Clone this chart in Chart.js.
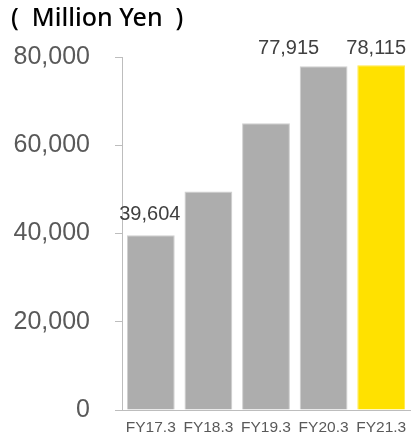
<!DOCTYPE html>
<html lang="en">
<head>
  <meta charset="UTF-8">
  <title>Sales</title>
  <script src="https://cdn.jsdelivr.net/npm/chart.js"></script>
  <style>
    html, body { margin: 0; padding: 0; background: #fff; }
    #wrap { width: 416px; height: 436px; }
  </style>
</head>
<body>
  <div id="wrap"><canvas id="salesChart" width="416" height="436"></canvas></div>

  <script>
    // Fiscal years and sales (million yen)
    const years = ['FY17.3', 'FY18.3', 'FY19.3', 'FY20.3', 'FY21.3'];
    const sales = [39604, 49500, 65000, 77915, 78115];
    const yTicks = [0, 20000, 40000, 60000, 80000];

    // Which bars carry a value label, with a small nudge [dx, dy] from the bar top
    const labelShift = [[-1, -15], null, null, [-35, -12], [-5, -11]];

    const barFill = ['#adadad', '#adadad', '#adadad', '#adadad', '#ffe100'];
    const barEdge = ['#cfcfcf', '#cfcfcf', '#cfcfcf', '#cfcfcf', '#ffe94a'];

    const valueLabels = {
      id: 'valueLabels',
      afterDatasetsDraw(chart) {
        const ctx = chart.ctx;
        const bars = chart.getDatasetMeta(0).data;
        ctx.save();
        ctx.font = '20px "Liberation Sans", Arial, sans-serif';
        ctx.fillStyle = '#404040';
        ctx.textAlign = 'center';
        ctx.textBaseline = 'alphabetic';
        bars.forEach((bar, i) => {
          const s = labelShift[i];
          if (!s) return;
          ctx.fillText(sales[i].toLocaleString('en-US'), bar.x + s[0], bar.y + s[1]);
        });
        ctx.restore();
      }
    };

    new Chart(document.getElementById('salesChart').getContext('2d'), {
      type: 'bar',
      data: {
        labels: years,
        datasets: [{
          data: sales,
          backgroundColor: barFill,
          borderColor: barEdge,
          borderWidth: 1,
          categoryPercentage: 1,
          barPercentage: 0.83
        }]
      },
      options: {
        responsive: false,
        animation: false,
        layout: { padding: { left: 11, right: 6, top: 0, bottom: 0 } },
        plugins: {
          legend: { display: false },
          tooltip: { enabled: false },
          title: {
            display: true,
            text: '(  Million Yen  )',
            align: 'start',
            color: '#000',
            font: { family: '"Noto Sans", "Liberation Sans", sans-serif', size: 25, weight: '500' },
            padding: { top: 4, bottom: 23 }
          }
        },
        scales: {
          x: {
            afterFit(scale) {
              scale.height = 26;
            },
            grid: { display: false, drawTicks: false },
            border: { display: true, color: '#bdbdbd', width: 1 },
            ticks: {
              color: '#595959',
              maxRotation: 0,
              autoSkip: false,
              padding: 8,
              font: { family: '"Liberation Sans", Arial, sans-serif', size: 15.5 }
            }
          },
          y: {
            min: 0,
            max: 80000,
            afterBuildTicks(scale) {
              scale.ticks = yTicks.map(v => ({ value: v }));
            },
            afterFit(scale) {
              scale.width = 111;
              // let the end labels hang over the plot edges
              scale.paddingTop = 0;
              scale.paddingBottom = 0;
            },
            grid: {
              display: true,
              drawOnChartArea: false,
              drawTicks: true,
              tickLength: 7,
              color: '#bdbdbd'
            },
            border: { display: true, color: '#bdbdbd', width: 1 },
            ticks: {
              color: '#595959',
              padding: 25,
              font: { family: '"Liberation Sans", Arial, sans-serif', size: 25 },
              callback: v => v.toLocaleString('en-US')
            }
          }
        }
      },
      plugins: [valueLabels]
    });
  </script>
</body>
</html>
